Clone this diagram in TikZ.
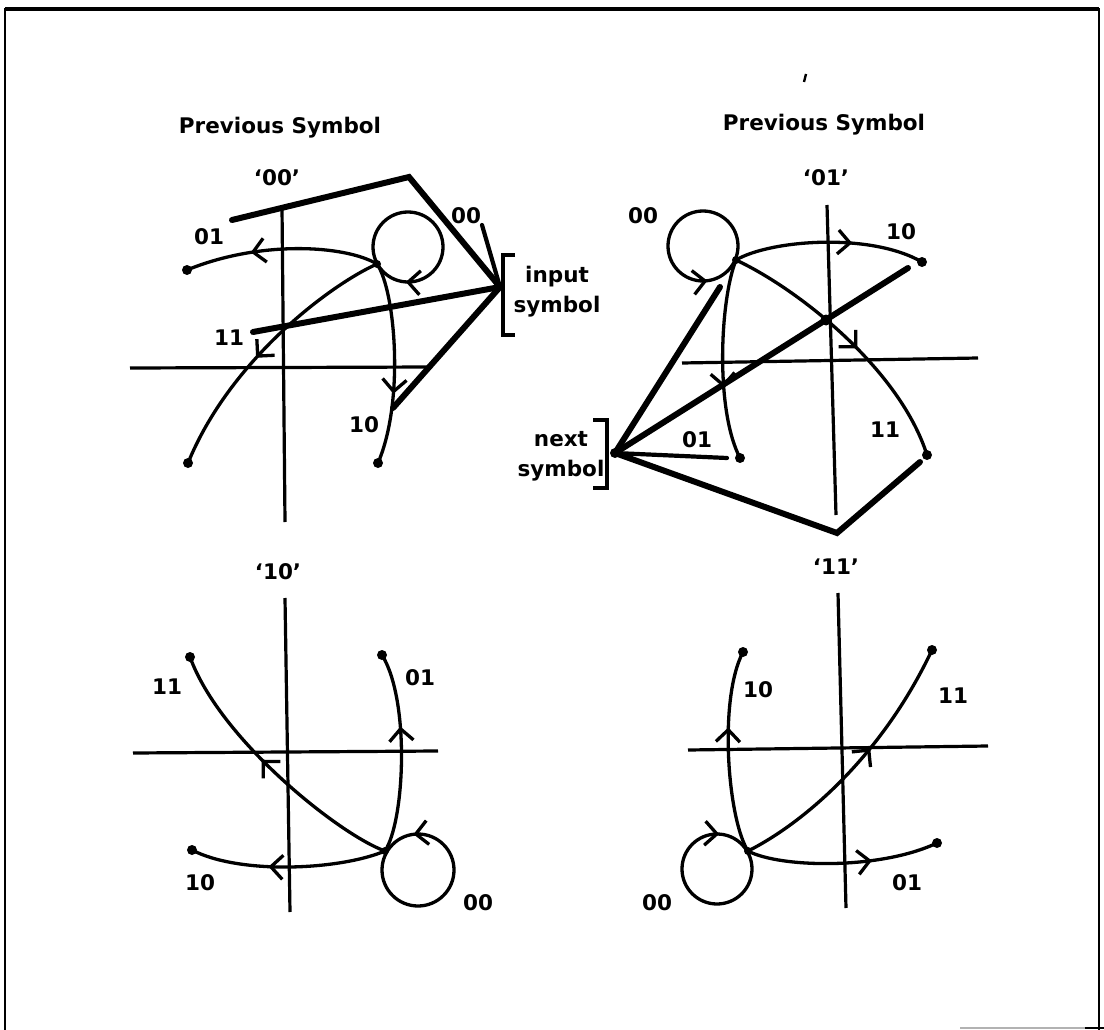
\documentclass[tikz,border=0pt]{standalone}
\usepackage{fontspec}
\setmainfont{DejaVu Sans}
\usetikzlibrary{arrows.meta,decorations.markings}
\tikzset{
  axis/.style={line width=3.2pt},
  curve/.style={line width=3.3pt},
  thickln/.style={line width=6pt, line cap=round},
  medln/.style={line width=4.2pt, line cap=round},
  brk/.style={line width=3.2pt},
  enddot/.style={circle, fill=black, inner sep=0pt, minimum size=10pt},
  lbl/.style={font=\fontsize{21.5}{30}\selectfont\bfseries, inner sep=0pt, align=center},
  arrat/.style={postaction={decorate}, decoration={markings, mark=at position #1 with {\arrow{Straight Barb[length=12pt,width=24pt]}}}},
}
\begin{document}
\begin{tikzpicture}[x=1pt,y=-1pt]
\useasboundingbox (0,0) rectangle (1104,1030);
% frame
\draw[line width=2.6pt] (5,1030) -- (5,9) -- (1099,9) -- (1099,1030);
\draw[line width=4.5pt] (5,9) -- (1099,9);
\draw[line width=2pt, black!30] (960,1028) -- (1085,1028);
\draw[line width=2pt] (1085,1028) -- (1104,1028);
\draw[line width=2.4pt] (806,74) -- (804,82);

% ---------------- Q1 '00'
\node[lbl] (t1) at (280,128) {Previous Symbol};
\node[lbl] (h1) at (277,178) {‘00’};
\coordinate (j1) at (377,264);
\coordinate (c1) at (408,247);
\node[enddot] (q1e01) at (187,270) {};
\node[enddot] (q1e10) at (378,463) {};
\node[enddot] (q1e11) at (188,463) {};
\draw[axis] (282,207) -- (285,522);
\draw[axis] (130,368) -- (432,367);
\draw[curve, arrat=0.26] (c1) ++(35,0) arc[start angle=0, delta angle=360, radius=35];
\draw[curve, arrat=0.66] (j1) .. controls (345,245) and (260,240) .. (q1e01.center);
\draw[curve, arrat=0.65] (j1) .. controls (395,290) and (405,400) .. (q1e10.center);
\draw[curve, arrat=0.55] (j1) .. controls (330,285) and (230,360) .. (q1e11.center);
\fill (j1) circle (4);
\coordinate (in1) at (500,287);
\coordinate (q1a) at (232,220);
\coordinate (q1b) at (409,177);
\coordinate (q1c) at (253,332);
\coordinate (q1d) at (393,408);
\coordinate (q1f) at (482,225);
\draw[thickln] (q1a) -- (q1b) -- (in1);
\draw[thickln] (q1c) -- (in1);
\draw[thickln] (in1) -- (q1d);
\draw[medln] (q1f) -- (in1);
\draw[brk] (515,255) -- (503,255) -- (503,335) -- (515,335);
\node[lbl] (inl) at (557,292) {input\\symbol};
\node[lbl] (l1a) at (209,237) {01};
\node[lbl] (l1b) at (229,338) {11};
\node[lbl] (l1c) at (364,425) {10};
\node[lbl] (l1d) at (466,216) {00};

% ---------------- Q2 '01'
\node[lbl] (t2) at (824,125) {Previous Symbol};
\node[lbl] (h2) at (826,178) {‘01’};
\coordinate (j2) at (736,260);
\coordinate (c2) at (703,246);
\node[enddot] (q2e10) at (922,262) {};
\node[enddot] (q2e11) at (927,455) {};
\node[enddot] (q2e01) at (740,458) {};
\draw[axis] (827,205) -- (836,515);
\draw[axis] (682,363) -- (978,358);
\draw[curve, arrat=0.77] (c2) ++(35,0) arc[start angle=0, delta angle=-360, radius=35];
\draw[curve, arrat=0.62] (j2) .. controls (770,240) and (870,232) .. (q2e10.center);
\draw[curve, arrat=0.54] (j2) .. controls (800,290) and (900,370) .. (q2e11.center);
\draw[curve, arrat=0.64] (j2) .. controls (720,300) and (715,410) .. (q2e01.center);
\fill (j2) circle (4);
\coordinate (nx2) at (615,453);
\coordinate (q2a) at (720,287);
\coordinate (q2b) at (908,268);
\coordinate (q2c) at (727,458);
\coordinate (q2d) at (837,533);
\coordinate (q2f) at (920,462);
\draw[thickln] (nx2) -- (q2a);
\draw[thickln] (nx2) -- (q2b);
\draw[medln] (nx2) -- (q2c);
\draw[thickln] (nx2) -- (q2d) -- (q2f);
\fill (826,320) circle (5.5);
\fill (nx2) circle (5);
\draw[brk] (593,420) -- (607,420) -- (607,488) -- (593,488);
\node[lbl] (nxl) at (561,456) {next\\symbol};
\node[lbl] (l2a) at (643,216) {00};
\node[lbl] (l2b) at (901,232) {10};
\node[lbl] (l2c) at (697,440) {01};
\node[lbl] (l2d) at (885,430) {11};

% ---------------- Q3 '10'
\node[lbl] (h3) at (278,572) {‘10’};
\coordinate (j3) at (385,851);
\coordinate (c3) at (418,870);
\node[enddot] (q3e11) at (190,657) {};
\node[enddot] (q3e01) at (382,655) {};
\node[enddot] (q3e10) at (192,850) {};
\draw[axis] (285,598) -- (290,912);
\draw[axis] (133,753) -- (438,751);
\draw[curve, arrat=0.27] (c3) ++(36,0) arc[start angle=0, delta angle=-360, radius=36];
\draw[curve, arrat=0.55] (j3) .. controls (340,835) and (220,740) .. (q3e11.center);
\draw[curve, arrat=0.63] (j3) .. controls (405,820) and (410,700) .. (q3e01.center);
\draw[curve, arrat=0.6] (j3) .. controls (340,870) and (240,875) .. (q3e10.center);
\fill (j3) circle (4);
\node[lbl] (l3a) at (167,687) {11};
\node[lbl] (l3b) at (420,678) {01};
\node[lbl] (l3c) at (200,883) {10};
\node[lbl] (l3d) at (478,903) {00};

% ---------------- Q4 '11'
\node[lbl] (h4) at (836,567) {‘11’};
\coordinate (j4) at (748,851);
\coordinate (c4) at (717,869);
\node[enddot] (q4e10) at (743,652) {};
\node[enddot] (q4e11) at (932,650) {};
\node[enddot] (q4e01) at (937,843) {};
\draw[axis] (838,593) -- (846,908);
\draw[axis] (688,750) -- (988,746);
\draw[curve, arrat=0.76] (c4) ++(35,0) arc[start angle=0, delta angle=360, radius=35];
\draw[curve, arrat=0.62] (j4) .. controls (728,820) and (718,700) .. (q4e10.center);
\draw[curve, arrat=0.58] (j4) .. controls (800,825) and (880,760) .. (q4e11.center);
\draw[curve, arrat=0.65] (j4) .. controls (780,868) and (880,870) .. (q4e01.center);
\fill (j4) circle (4);
\node[lbl] (l4a) at (758,690) {10};
\node[lbl] (l4b) at (953,696) {11};
\node[lbl] (l4c) at (907,883) {01};
\node[lbl] (l4d) at (657,903) {00};
\end{tikzpicture}
\end{document}
